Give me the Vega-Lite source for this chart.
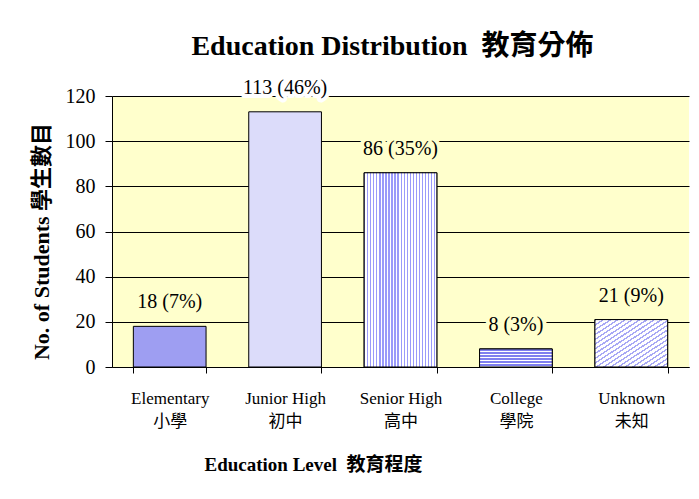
{
  "$schema": "https://vega.github.io/schema/vega-lite/v6.json",
  "width": 577,
  "height": 271,
  "autosize": {"type": "none"},
  "padding": {"left": 112, "top": 96, "right": 10, "bottom": 132},
  "background": "white",
  "config": {
    "font": "Liberation Serif, Noto Sans CJK TC",
    "view": {"fill": "#FFFFCC", "stroke": null},
    "axis": {
      "labelFont": "Liberation Serif, Noto Sans CJK TC",
      "titleFont": "Liberation Serif, Noto Sans CJK TC",
      "labelColor": "black",
      "titleColor": "black",
      "domainColor": "black",
      "tickColor": "black",
      "gridColor": "black",
      "gridOpacity": 1,
      "domainWidth": 1,
      "tickWidth": 1
    }
  },
  "title": {
    "text": "Education Distribution\u00a0\u00a0教育分佈",
    "font": "Liberation Serif, Noto Sans CJK TC",
    "fontSize": 28,
    "fontWeight": "bold",
    "color": "black",
    "anchor": "middle",
    "offset": 17,
    "dx": -8
  },
  "data": {
    "values": [
      {"level": "Elementary\n小學", "count": 18, "label": "18 (7%)"},
      {"level": "Junior High\n初中", "count": 113, "label": "113 (46%)"},
      {"level": "Senior High\n高中", "count": 86, "label": "86 (35%)"},
      {"level": "College\n學院", "count": 8, "label": "8 (3%)"},
      {"level": "Unknown\n未知", "count": 21, "label": "21 (9%)"}
    ]
  },
  "encoding": {
    "x": {
      "field": "level",
      "type": "nominal",
      "sort": null,
      "scale": {"paddingInner": 0.37, "paddingOuter": 0.185},
      "axis": {
        "title": "Education Level\u00a0\u00a0教育程度",
        "titleFontSize": 19,
        "titleFontWeight": "bold",
        "titleX": 201,
        "titlePadding": 26,
        "labelExpr": "split(datum.label, '\\n')",
        "labelFontSize": 17,
        "labelLineHeight": 23,
        "labelAngle": 0,
        "labelPadding": 17,
        "tickSize": 6,
        "tickBand": "extent",
        "grid": false
      }
    },
    "y": {
      "field": "count",
      "type": "quantitative",
      "scale": {"domain": [0, 120], "nice": false},
      "axis": {
        "title": "No. of Students\u00a0學生數目",
        "titleFontSize": 22,
        "titleFontWeight": "bold",
        "titlePadding": 12,
        "titleY": 145,
        "values": [0, 20, 40, 60, 80, 100, 120],
        "labelFontSize": 20,
        "labelPadding": 10,
        "tickSize": 7,
        "grid": true,
        "gridWidth": 1
      }
    }
  },
  "layer": [
    {
      "mark": {"type": "bar", "stroke": "black", "strokeWidth": 1},
      "encoding": {
        "color": {
          "field": "level",
          "type": "nominal",
          "sort": null,
          "legend": null,
          "scale": {"range": ["#9E9EF2", "#DCDCFA", "#CFCFF8", "#ABABF2", "#DADAF6"]}
        }
      }
    },
    {
      "transform": [{"filter": "datum.count == 86"}],
      "mark": {
        "type": "bar",
        "stroke": "black",
        "strokeWidth": 1,
        "fill": {
          "gradient": "linear", "x1": 0, "y1": 0, "x2": 1, "y2": 0,
          "stops": [
            {"offset": 0, "color": "#9A9AFA"}, {"offset": 0.0167, "color": "#9A9AFA"}, {"offset": 0.0167, "color": "#FFFFFF"}, {"offset": 0.0417, "color": "#FFFFFF"},
            {"offset": 0.0417, "color": "#9A9AFA"}, {"offset": 0.0584, "color": "#9A9AFA"}, {"offset": 0.0584, "color": "#FFFFFF"}, {"offset": 0.0833, "color": "#FFFFFF"},
            {"offset": 0.0833, "color": "#9A9AFA"}, {"offset": 0.1000, "color": "#9A9AFA"}, {"offset": 0.1000, "color": "#FFFFFF"}, {"offset": 0.1250, "color": "#FFFFFF"},
            {"offset": 0.1250, "color": "#9A9AFA"}, {"offset": 0.1417, "color": "#9A9AFA"}, {"offset": 0.1417, "color": "#FFFFFF"}, {"offset": 0.1667, "color": "#FFFFFF"},
            {"offset": 0.1667, "color": "#9A9AFA"}, {"offset": 0.1834, "color": "#9A9AFA"}, {"offset": 0.1834, "color": "#FFFFFF"}, {"offset": 0.2083, "color": "#FFFFFF"},
            {"offset": 0.2083, "color": "#9A9AFA"}, {"offset": 0.2250, "color": "#9A9AFA"}, {"offset": 0.2250, "color": "#FFFFFF"}, {"offset": 0.2500, "color": "#FFFFFF"},
            {"offset": 0.2500, "color": "#9A9AFA"}, {"offset": 0.2667, "color": "#9A9AFA"}, {"offset": 0.2667, "color": "#FFFFFF"}, {"offset": 0.2917, "color": "#FFFFFF"},
            {"offset": 0.2917, "color": "#9A9AFA"}, {"offset": 0.3084, "color": "#9A9AFA"}, {"offset": 0.3084, "color": "#FFFFFF"}, {"offset": 0.3333, "color": "#FFFFFF"},
            {"offset": 0.3333, "color": "#9A9AFA"}, {"offset": 0.3500, "color": "#9A9AFA"}, {"offset": 0.3500, "color": "#FFFFFF"}, {"offset": 0.3750, "color": "#FFFFFF"},
            {"offset": 0.3750, "color": "#9A9AFA"}, {"offset": 0.3917, "color": "#9A9AFA"}, {"offset": 0.3917, "color": "#FFFFFF"}, {"offset": 0.4167, "color": "#FFFFFF"},
            {"offset": 0.4167, "color": "#9A9AFA"}, {"offset": 0.4334, "color": "#9A9AFA"}, {"offset": 0.4334, "color": "#FFFFFF"}, {"offset": 0.4583, "color": "#FFFFFF"},
            {"offset": 0.4583, "color": "#9A9AFA"}, {"offset": 0.4750, "color": "#9A9AFA"}, {"offset": 0.4750, "color": "#FFFFFF"}, {"offset": 0.5000, "color": "#FFFFFF"},
            {"offset": 0.5000, "color": "#9A9AFA"}, {"offset": 0.5167, "color": "#9A9AFA"}, {"offset": 0.5167, "color": "#FFFFFF"}, {"offset": 0.5417, "color": "#FFFFFF"},
            {"offset": 0.5417, "color": "#9A9AFA"}, {"offset": 0.5584, "color": "#9A9AFA"}, {"offset": 0.5584, "color": "#FFFFFF"}, {"offset": 0.5833, "color": "#FFFFFF"},
            {"offset": 0.5833, "color": "#9A9AFA"}, {"offset": 0.6000, "color": "#9A9AFA"}, {"offset": 0.6000, "color": "#FFFFFF"}, {"offset": 0.6250, "color": "#FFFFFF"},
            {"offset": 0.6250, "color": "#9A9AFA"}, {"offset": 0.6417, "color": "#9A9AFA"}, {"offset": 0.6417, "color": "#FFFFFF"}, {"offset": 0.6667, "color": "#FFFFFF"},
            {"offset": 0.6667, "color": "#9A9AFA"}, {"offset": 0.6834, "color": "#9A9AFA"}, {"offset": 0.6834, "color": "#FFFFFF"}, {"offset": 0.7083, "color": "#FFFFFF"},
            {"offset": 0.7083, "color": "#9A9AFA"}, {"offset": 0.7250, "color": "#9A9AFA"}, {"offset": 0.7250, "color": "#FFFFFF"}, {"offset": 0.7500, "color": "#FFFFFF"},
            {"offset": 0.7500, "color": "#9A9AFA"}, {"offset": 0.7667, "color": "#9A9AFA"}, {"offset": 0.7667, "color": "#FFFFFF"}, {"offset": 0.7917, "color": "#FFFFFF"},
            {"offset": 0.7917, "color": "#9A9AFA"}, {"offset": 0.8084, "color": "#9A9AFA"}, {"offset": 0.8084, "color": "#FFFFFF"}, {"offset": 0.8333, "color": "#FFFFFF"},
            {"offset": 0.8333, "color": "#9A9AFA"}, {"offset": 0.8500, "color": "#9A9AFA"}, {"offset": 0.8500, "color": "#FFFFFF"}, {"offset": 0.8750, "color": "#FFFFFF"},
            {"offset": 0.8750, "color": "#9A9AFA"}, {"offset": 0.8917, "color": "#9A9AFA"}, {"offset": 0.8917, "color": "#FFFFFF"}, {"offset": 0.9167, "color": "#FFFFFF"},
            {"offset": 0.9167, "color": "#9A9AFA"}, {"offset": 0.9334, "color": "#9A9AFA"}, {"offset": 0.9334, "color": "#FFFFFF"}, {"offset": 0.9583, "color": "#FFFFFF"},
            {"offset": 0.9583, "color": "#9A9AFA"}, {"offset": 0.9750, "color": "#9A9AFA"}, {"offset": 0.9750, "color": "#FFFFFF"}, {"offset": 1, "color": "#FFFFFF"}
          ]
        }
      }
    },
    {
      "transform": [{"filter": "datum.count == 8"}],
      "mark": {
        "type": "bar",
        "stroke": "black",
        "strokeWidth": 1,
        "fill": {
          "gradient": "linear", "x1": 0, "y1": 0, "x2": 0, "y2": 1,
          "stops": [
            {"offset": 0, "color": "#7F7FEF"}, {"offset": 0.0917, "color": "#7F7FEF"}, {"offset": 0.0917, "color": "#FFFFFF"}, {"offset": 0.1667, "color": "#FFFFFF"},
            {"offset": 0.1667, "color": "#7F7FEF"}, {"offset": 0.2583, "color": "#7F7FEF"}, {"offset": 0.2583, "color": "#FFFFFF"}, {"offset": 0.3333, "color": "#FFFFFF"},
            {"offset": 0.3333, "color": "#7F7FEF"}, {"offset": 0.4250, "color": "#7F7FEF"}, {"offset": 0.4250, "color": "#FFFFFF"}, {"offset": 0.5000, "color": "#FFFFFF"},
            {"offset": 0.5000, "color": "#7F7FEF"}, {"offset": 0.5917, "color": "#7F7FEF"}, {"offset": 0.5917, "color": "#FFFFFF"}, {"offset": 0.6667, "color": "#FFFFFF"},
            {"offset": 0.6667, "color": "#7F7FEF"}, {"offset": 0.7583, "color": "#7F7FEF"}, {"offset": 0.7583, "color": "#FFFFFF"}, {"offset": 0.8333, "color": "#FFFFFF"},
            {"offset": 0.8333, "color": "#7F7FEF"}, {"offset": 0.9250, "color": "#7F7FEF"}, {"offset": 0.9250, "color": "#FFFFFF"}, {"offset": 1, "color": "#FFFFFF"}
          ]
        }
      }
    },
    {
      "transform": [{"filter": "datum.count == 21"}],
      "mark": {
        "type": "bar",
        "stroke": "black",
        "strokeWidth": 1,
        "fill": {
          "gradient": "linear", "x1": 0, "y1": 0, "x2": 1, "y2": 1,
          "stops": [
            {"offset": 0, "color": "#A8A8F5"}, {"offset": 0.018, "color": "#A8A8F5"}, {"offset": 0.018, "color": "#FFFFFF"}, {"offset": 0.05, "color": "#FFFFFF"},
            {"offset": 0.05, "color": "#A8A8F5"}, {"offset": 0.068, "color": "#A8A8F5"}, {"offset": 0.068, "color": "#FFFFFF"}, {"offset": 0.10, "color": "#FFFFFF"},
            {"offset": 0.10, "color": "#A8A8F5"}, {"offset": 0.118, "color": "#A8A8F5"}, {"offset": 0.118, "color": "#FFFFFF"}, {"offset": 0.15, "color": "#FFFFFF"},
            {"offset": 0.15, "color": "#A8A8F5"}, {"offset": 0.168, "color": "#A8A8F5"}, {"offset": 0.168, "color": "#FFFFFF"}, {"offset": 0.20, "color": "#FFFFFF"},
            {"offset": 0.20, "color": "#A8A8F5"}, {"offset": 0.218, "color": "#A8A8F5"}, {"offset": 0.218, "color": "#FFFFFF"}, {"offset": 0.25, "color": "#FFFFFF"},
            {"offset": 0.25, "color": "#A8A8F5"}, {"offset": 0.268, "color": "#A8A8F5"}, {"offset": 0.268, "color": "#FFFFFF"}, {"offset": 0.30, "color": "#FFFFFF"},
            {"offset": 0.30, "color": "#A8A8F5"}, {"offset": 0.318, "color": "#A8A8F5"}, {"offset": 0.318, "color": "#FFFFFF"}, {"offset": 0.35, "color": "#FFFFFF"},
            {"offset": 0.35, "color": "#A8A8F5"}, {"offset": 0.368, "color": "#A8A8F5"}, {"offset": 0.368, "color": "#FFFFFF"}, {"offset": 0.40, "color": "#FFFFFF"},
            {"offset": 0.40, "color": "#A8A8F5"}, {"offset": 0.418, "color": "#A8A8F5"}, {"offset": 0.418, "color": "#FFFFFF"}, {"offset": 0.45, "color": "#FFFFFF"},
            {"offset": 0.45, "color": "#A8A8F5"}, {"offset": 0.468, "color": "#A8A8F5"}, {"offset": 0.468, "color": "#FFFFFF"}, {"offset": 0.50, "color": "#FFFFFF"},
            {"offset": 0.50, "color": "#A8A8F5"}, {"offset": 0.518, "color": "#A8A8F5"}, {"offset": 0.518, "color": "#FFFFFF"}, {"offset": 0.55, "color": "#FFFFFF"},
            {"offset": 0.55, "color": "#A8A8F5"}, {"offset": 0.568, "color": "#A8A8F5"}, {"offset": 0.568, "color": "#FFFFFF"}, {"offset": 0.60, "color": "#FFFFFF"},
            {"offset": 0.60, "color": "#A8A8F5"}, {"offset": 0.618, "color": "#A8A8F5"}, {"offset": 0.618, "color": "#FFFFFF"}, {"offset": 0.65, "color": "#FFFFFF"},
            {"offset": 0.65, "color": "#A8A8F5"}, {"offset": 0.668, "color": "#A8A8F5"}, {"offset": 0.668, "color": "#FFFFFF"}, {"offset": 0.70, "color": "#FFFFFF"},
            {"offset": 0.70, "color": "#A8A8F5"}, {"offset": 0.718, "color": "#A8A8F5"}, {"offset": 0.718, "color": "#FFFFFF"}, {"offset": 0.75, "color": "#FFFFFF"},
            {"offset": 0.75, "color": "#A8A8F5"}, {"offset": 0.768, "color": "#A8A8F5"}, {"offset": 0.768, "color": "#FFFFFF"}, {"offset": 0.80, "color": "#FFFFFF"},
            {"offset": 0.80, "color": "#A8A8F5"}, {"offset": 0.818, "color": "#A8A8F5"}, {"offset": 0.818, "color": "#FFFFFF"}, {"offset": 0.85, "color": "#FFFFFF"},
            {"offset": 0.85, "color": "#A8A8F5"}, {"offset": 0.868, "color": "#A8A8F5"}, {"offset": 0.868, "color": "#FFFFFF"}, {"offset": 0.90, "color": "#FFFFFF"},
            {"offset": 0.90, "color": "#A8A8F5"}, {"offset": 0.918, "color": "#A8A8F5"}, {"offset": 0.918, "color": "#FFFFFF"}, {"offset": 0.95, "color": "#FFFFFF"},
            {"offset": 0.95, "color": "#A8A8F5"}, {"offset": 0.968, "color": "#A8A8F5"}, {"offset": 0.968, "color": "#FFFFFF"}, {"offset": 1, "color": "#FFFFFF"}
          ]
        }
      }
    },
    {
      "mark": {"type": "text", "baseline": "middle", "dy": -24, "fontSize": 20, "strokeWidth": 8, "strokeJoin": "round"},
      "encoding": {
        "text": {"field": "label"},
        "color": {"condition": {"test": "datum.count > 110", "value": "white"}, "value": "#FFFFCC"},
        "stroke": {"condition": {"test": "datum.count > 110", "value": "white"}, "value": "#FFFFCC"}
      }
    },
    {
      "mark": {"type": "text", "baseline": "middle", "dy": -24, "fontSize": 20, "color": "black"},
      "encoding": {
        "text": {"field": "label"}
      }
    }
  ]
}
